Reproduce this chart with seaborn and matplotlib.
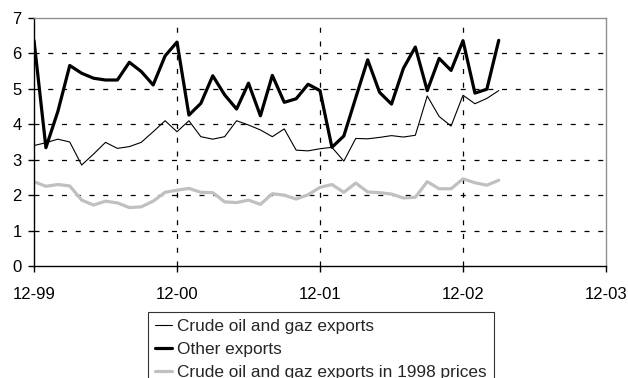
import matplotlib
matplotlib.use("Agg")
import matplotlib.pyplot as plt
import numpy as np
import pandas as pd
import seaborn as sns

# Monthly export values, Dec 1999 .. Mar 2003
crude = [3.40, 3.48, 3.58, 3.50, 2.85, 3.16, 3.49, 3.32, 3.37, 3.49, 3.79, 4.10,
         3.79, 4.10, 3.65, 3.58, 3.65, 4.10, 3.98, 3.84, 3.65, 3.87, 3.27, 3.25,
         3.31, 3.35, 2.96, 3.60, 3.59, 3.63, 3.68, 3.64, 3.69, 4.80, 4.22, 3.95,
         4.82, 4.58, 4.73, 4.95]
other = [6.37, 3.34, 4.36, 5.66, 5.44, 5.30, 5.25, 5.25, 5.75, 5.49, 5.11, 5.93,
         6.32, 4.26, 4.59, 5.37, 4.83, 4.43, 5.16, 4.24, 5.38, 4.62, 4.72, 5.13,
         4.95, 3.35, 3.67, 4.75, 5.82, 4.90, 4.57, 5.58, 6.18, 4.95, 5.86, 5.52,
         6.36, 4.88, 4.99, 6.37]
crude_1998 = [2.38, 2.25, 2.30, 2.26, 1.86, 1.72, 1.83, 1.78, 1.65, 1.67, 1.83, 2.08,
              2.14, 2.19, 2.08, 2.07, 1.81, 1.79, 1.86, 1.74, 2.04, 2.00, 1.89, 2.01,
              2.22, 2.30, 2.08, 2.34, 2.09, 2.07, 2.03, 1.92, 1.94, 2.38, 2.18, 2.18,
              2.46, 2.35, 2.28, 2.42]
series_names = ["Crude oil and gaz exports", "Other exports",
                "Crude oil and gaz exports in 1998 prices"]
tick_labels = ["12-99", "12-00", "12-01", "12-02", "12-03"]
tick_months = [0, 12, 24, 36, 48]

months = np.arange(len(crude))
df = pd.DataFrame({
    "month": np.tile(months, 3),
    "value": crude + other + crude_1998,
    "series": np.repeat(series_names, len(months)),
})

sns.set_theme(style="white")
plt.rcParams["font.family"] = ["Liberation Sans", "DejaVu Sans"]

fig = plt.figure(figsize=(6.28, 3.78), dpi=100)
ax = fig.add_axes([34 / 628, 1 - 266 / 378, (606 - 34) / 628, (266 - 18) / 378])

palette = {series_names[0]: "black", series_names[1]: "black",
           series_names[2]: "#c0c0c0"}
widths = {series_names[0]: 0.8, series_names[1]: 2.3, series_names[2]: 2.3}
for name in series_names:
    sns.lineplot(data=df[df["series"] == name], x="month", y="value",
                 color=palette[name], linewidth=widths[name], ax=ax,
                 label=name, legend=False)

ax.set_xlim(0, 48)
ax.set_ylim(0, 7)
ax.set_xticks(tick_months)
ax.set_xticklabels(tick_labels)
ax.set_yticks(range(8))
ax.set_xlabel("")
ax.set_ylabel("")

dash = (0, (4, 7))
for yv in range(1, 7):
    ax.axhline(yv, color="black", linewidth=0.9, linestyle=dash, zorder=0)
for xv in tick_months[1:-1]:
    ax.axvline(xv, color="black", linewidth=0.9, linestyle=dash, zorder=0)

for side in ["left", "bottom"]:
    ax.spines[side].set_color("black")
    ax.spines[side].set_linewidth(1.0)
for side in ["top", "right"]:
    ax.spines[side].set_color("#909090")
    ax.spines[side].set_linewidth(1.0)

ax.tick_params(axis="both", which="both", direction="out", length=4, width=1,
               color="black", labelsize=12, labelcolor="black",
               bottom=True, left=True, pad=5)
ax.tick_params(axis="x", pad=11)

# Legend box sits below the axes and runs past the lower edge of the figure
handles, labels = ax.get_legend_handles_labels()
leg = fig.legend(handles, labels, loc="upper left",
                 bbox_to_anchor=(148 / 628, 1 - 312 / 378),
                 frameon=True, fancybox=False, fontsize=12.4,
                 handlelength=1.0, handletextpad=0.3, borderpad=0.4,
                 labelspacing=0.45, borderaxespad=0)
leg.get_frame().set_edgecolor("black")
leg.get_frame().set_linewidth(0.8)

fig.savefig("out.png", dpi=100)
